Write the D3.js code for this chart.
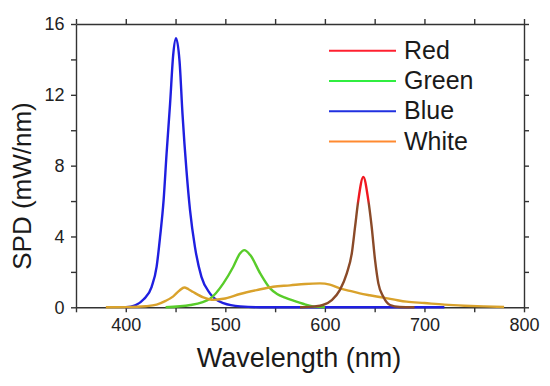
<!DOCTYPE html>
<html lang="en">
<head>
  <meta charset="UTF-8" />
  <title>SPD</title>
  <script src="https://d3js.org/d3.v7.min.js"></script>
  <style>
    body { margin: 0; background: #fff; }
    svg { display: block; font-family: Arial, "Liberation Sans", sans-serif; }
    .axis path, .axis line { stroke: #333; stroke-width: 1.4; }
    .axis text { fill: #222; font-size: 18px; }
  </style>
</head>
<body>
  <svg id="chart" width="550" height="386"></svg>
  <script>
    // wavelength (nm) / SPD (mW/nm)
    const blue = [[400,0],[405,0.03],[410,0.12],[418,0.45],[426,1.16],[431,2.3],[434.5,4.0],[438,6.05],[441,8.7],
      [444.5,11.5],[447.7,14.3],[450.5,15.2],[454,13.9],[457,10.9],[461,7.7],[464.5,5.5],[469.5,3.4],[476,1.72],
      [484.5,0.79],[498,0.23],[515,0.05],[540,0],[720,0]];
    const green = [[440,0],[465,0.13],[485,0.5],[498,1.35],[508,2.29],[514.7,3.04],[519,3.23],[525,2.95],[535,1.92],
      [545,1.07],[552,0.75],[560,0.55],[570,0.35],[578,0.2],[588,0.05],[600,0]];
    const red = [[575,0],[590,0.05],[598,0.13],[607,0.41],[615,0.97],[622,1.92],[627,3.04],[630.3,4.54],[633.6,6.05],
      [638.6,7.36],[643.6,6.05],[647,4.54],[650.4,2.66],[653.7,1.35],[658.7,0.6],[665.5,0.13],[675,0.02],[690,0]];
    const white = [[380,0],[400,0.01],[420,0.06],[431,0.15],[440,0.36],[447.7,0.62],[454,0.95],[458.8,1.12],[463,1.02],
      [467.8,0.86],[477.9,0.56],[488,0.42],[498,0.48],[514.7,0.75],[531.5,0.97],[548,1.16],[565,1.24],[580,1.32],
      [595,1.35],[605,1.28],[615,1.07],[625,0.93],[635,0.79],[645,0.68],[655,0.58],[670,0.43],[682,0.32],
      [700,0.24],[720,0.15],[740,0.09],[760,0.05],[780,0.02]];

    const seriesNames = ["Red", "Green", "Blue", "White"];
    const seriesData = [red, green, blue, white];
    const xTicks = [400, 500, 600, 700, 800];
    const yTicks = [0, 4, 8, 12, 16];

    const lineColor = { Red: "#e8141a", Green: "#58cc2a", Blue: "#1f1fe0", White: "#d9a22c" };
    const legendColor = { Red: "#ff2030", Green: "#30ee40", Blue: "#2030e0", White: "#ff8a30" };

    const svg = d3.select("#chart");
    const x = d3.scaleLinear().domain([350, 800]).range([76, 524]);
    const y = d3.scaleLinear().domain([0, 16]).range([307.3, 24]);

    const minorX = d3.range(350, 801, 50);
    const minorY = d3.range(0, 17, 2);

    // axes: all ticks point outward
    svg.append("g").attr("class", "axis")
      .attr("transform", `translate(0,${y(0)})`)
      .call(d3.axisBottom(x).tickValues(minorX).tickSize(5).tickSizeOuter(0)
        .tickFormat(d => xTicks.includes(d) ? d : ""))
      .call(g => g.selectAll("text").attr("dy", "0.9em"));
    svg.append("g").attr("class", "axis")
      .attr("transform", `translate(0,${y(16)})`)
      .call(d3.axisTop(x).tickValues(minorX).tickSize(5).tickSizeOuter(0).tickFormat(""));
    svg.append("g").attr("class", "axis")
      .attr("transform", `translate(${x(350)},0)`)
      .call(d3.axisLeft(y).tickValues(minorY).tickSize(5).tickSizeOuter(0)
        .tickFormat(d => yTicks.includes(d) ? d : ""))
      .call(g => g.selectAll("text").attr("dx", "-0.2em"));
    svg.append("g").attr("class", "axis")
      .attr("transform", `translate(${x(800)},0)`)
      .call(d3.axisRight(y).tickValues(minorY).tickSize(5).tickSizeOuter(0).tickFormat(""));

    // red curve is brownish below its upper part in the original
    const grad = svg.append("defs").append("linearGradient")
      .attr("id", "redGrad").attr("gradientUnits", "userSpaceOnUse")
      .attr("x1", 0).attr("x2", 0).attr("y1", y(0)).attr("y2", y(8));
    grad.append("stop").attr("offset", "0%").attr("stop-color", "#8a4a28");
    grad.append("stop").attr("offset", "72%").attr("stop-color", "#8a4a28");
    grad.append("stop").attr("offset", "76%").attr("stop-color", "#f01820");
    grad.append("stop").attr("offset", "100%").attr("stop-color", "#f01820");

    const line = d3.line().x(d => x(d[0])).y(d => y(d[1])).curve(d3.curveMonotoneX);

    const drawOrder = [2, 1, 3, 0];
    drawOrder.forEach(i => {
      const name = seriesNames[i];
      svg.append("path")
        .datum(seriesData[i])
        .attr("fill", "none")
        .attr("stroke", name === "Red" ? "url(#redGrad)" : lineColor[name])
        .attr("stroke-width", 2.4)
        .attr("stroke-linejoin", "round")
        .attr("d", line);
    });

    // legend
    const legend = svg.append("g");
    seriesNames.forEach((name, i) => {
      const ly = 50.7 + i * 30.3;
      legend.append("line")
        .attr("x1", 329).attr("x2", 396).attr("y1", ly).attr("y2", ly)
        .attr("stroke", legendColor[name]).attr("stroke-width", 2);
      legend.append("text")
        .attr("x", 404).attr("y", ly + 8)
        .attr("font-size", 25).attr("fill", "#1a1a1a")
        .text(name);
    });

    // axis titles
    svg.append("text")
      .attr("x", 299).attr("y", 367)
      .attr("text-anchor", "middle")
      .attr("font-size", 27).attr("fill", "#1a1a1a")
      .text("Wavelength (nm)");
    svg.append("text")
      .attr("transform", "translate(31,186) rotate(-90)")
      .attr("text-anchor", "middle")
      .attr("font-size", 26).attr("fill", "#1a1a1a")
      .text("SPD (mW/nm)");
  </script>
</body>
</html>
